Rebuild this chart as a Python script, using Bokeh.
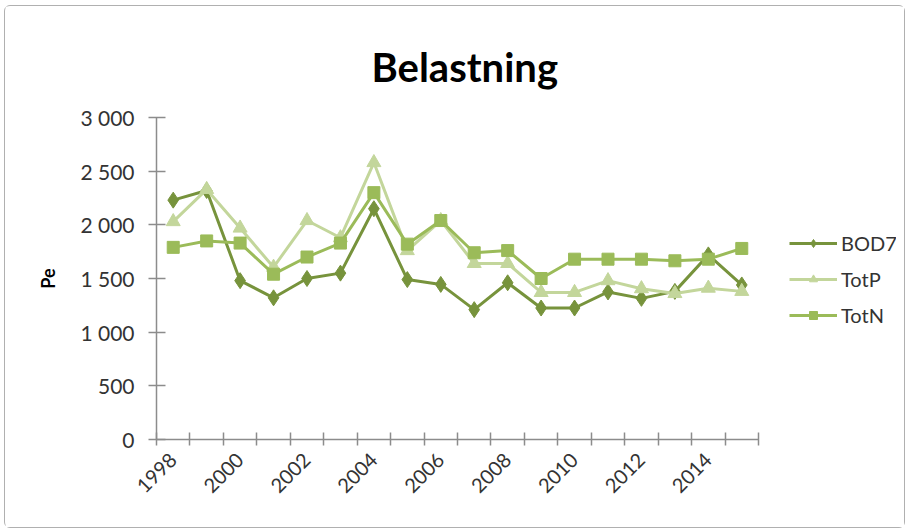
import math
from bokeh.plotting import figure
from bokeh.models import Range1d, FixedTicker, Legend, LegendItem, ColumnDataSource
from bokeh.embed import file_html
from bokeh.resources import INLINE

years = [str(y) for y in range(1998, 2016)]
bod7 = [2230, 2320, 1480, 1320, 1500, 1550, 2150, 1490, 1445, 1210, 1460, 1225, 1225, 1375, 1315, 1380, 1720, 1440]
totp = [2030, 2330, 1970, 1605, 2040, 1880, 2580, 1760, 2040, 1640, 1640, 1370, 1370, 1480, 1405, 1360, 1410, 1380]
totn = [1790, 1850, 1830, 1540, 1700, 1830, 2300, 1820, 2040, 1740, 1760, 1500, 1680, 1680, 1680, 1665, 1680, 1780]
y_ticks = [0, 500, 1000, 1500, 2000, 2500, 3000]
y_tick_labels = ["0", "500", "1 000", "1 500", "2 000", "2 500", "3 000"]

FONT = "Lato"
AXIS_COLOR = "#8c8c8c"
TEXT_COLOR = "#333333"

n = len(years)
idx = list(range(n))
src = ColumnDataSource(dict(x=idx, year=years, bod7=bod7, totp=totp, totn=totn))

# the plot frame reaches under the legend; the axis line is bounded to the categories
AXIS_PX = 602          # pixel length of the category axis
FRAME_PX = 740         # pixel width of the frame (axis + legend area)
x_end = -0.5 + FRAME_PX * n / AXIS_PX

p = figure(width=901, height=523, output_backend="svg", toolbar_location=None,
           x_range=Range1d(-0.5, x_end), y_range=Range1d(0, 3000),
           min_border_left=151, min_border_right=10, min_border_top=111, min_border_bottom=90,
           title="Belastning")
p.margin = (5, 4, 3, 4)
p.styles = {"border": "1px solid #b0b0b0", "border-radius": "6px"}
p.outline_line_color = None
p.xgrid.visible = False
p.ygrid.visible = False

p.title.align = "left"
p.title.offset = 215
p.title.vertical_align = "top"
p.title.text_font = FONT
p.title.text_font_size = "40px"
p.title.text_font_style = "bold"
p.title.text_color = "#000000"
p.title.standoff = 50

# x axis
xa = p.xaxis[0]
xa.bounds = (-0.5, n - 0.5)
xa.ticker = FixedTicker(ticks=idx[::2], minor_ticks=[i - 0.5 for i in range(n + 1)])
xa.major_label_overrides = {i: years[i] for i in idx[::2]}
xa.major_tick_line_color = None
xa.major_tick_out = 7
xa.major_tick_in = 0
xa.minor_tick_line_color = AXIS_COLOR
xa.minor_tick_line_width = 1.5
xa.minor_tick_in = 7
xa.minor_tick_out = 6
xa.axis_line_color = AXIS_COLOR
xa.axis_line_width = 1.5
xa.major_label_orientation = math.pi / 4
xa.major_label_standoff = 10
xa.major_label_text_font = FONT
xa.major_label_text_font_size = "20px"
xa.major_label_text_color = TEXT_COLOR

# y axis
ya = p.yaxis[0]
ya.ticker = FixedTicker(ticks=y_ticks, minor_ticks=[])
ya.major_label_overrides = {t: l for t, l in zip(y_ticks, y_tick_labels)}
ya.major_tick_line_color = AXIS_COLOR
ya.major_tick_line_width = 1.5
ya.major_tick_in = 9
ya.major_tick_out = 8
ya.axis_line_color = AXIS_COLOR
ya.axis_line_width = 1.5
ya.major_label_standoff = 14
ya.major_label_text_font = FONT
ya.major_label_text_font_size = "21px"
ya.major_label_text_color = TEXT_COLOR
ya.axis_label = "Pe"
ya.axis_label_text_font = FONT
ya.axis_label_text_font_size = "18px"
ya.axis_label_text_font_style = "bold"
ya.axis_label_text_color = "#000000"
ya.axis_label_standoff = 18

series = [
    ("BOD7", "bod7", "#77933C", "diamond", 16),
    ("TotP", "totp", "#C3D69B", "triangle", 14),
    ("TotN", "totn", "#9BBB59", "square", 12),
]
items = []
for name, col, color, marker, size in series:
    ln = p.line("x", col, source=src, line_color=color, line_width=3)
    sc = p.scatter("x", col, source=src, marker=marker, size=size,
                   fill_color=color, line_color=color)
    items.append(LegendItem(label=name, renderers=[ln, sc]))

legend = Legend(items=items, location=(633, 112), border_line_color=None,
                background_fill_alpha=0, padding=0, margin=0,
                glyph_width=48, glyph_height=20, label_height=20, spacing=12,
                label_standoff=4, label_text_font=FONT, label_text_font_size="20px",
                label_text_color=TEXT_COLOR)
p.add_layout(legend, "center")

open("out.html", "w").write(file_html(p, INLINE))
